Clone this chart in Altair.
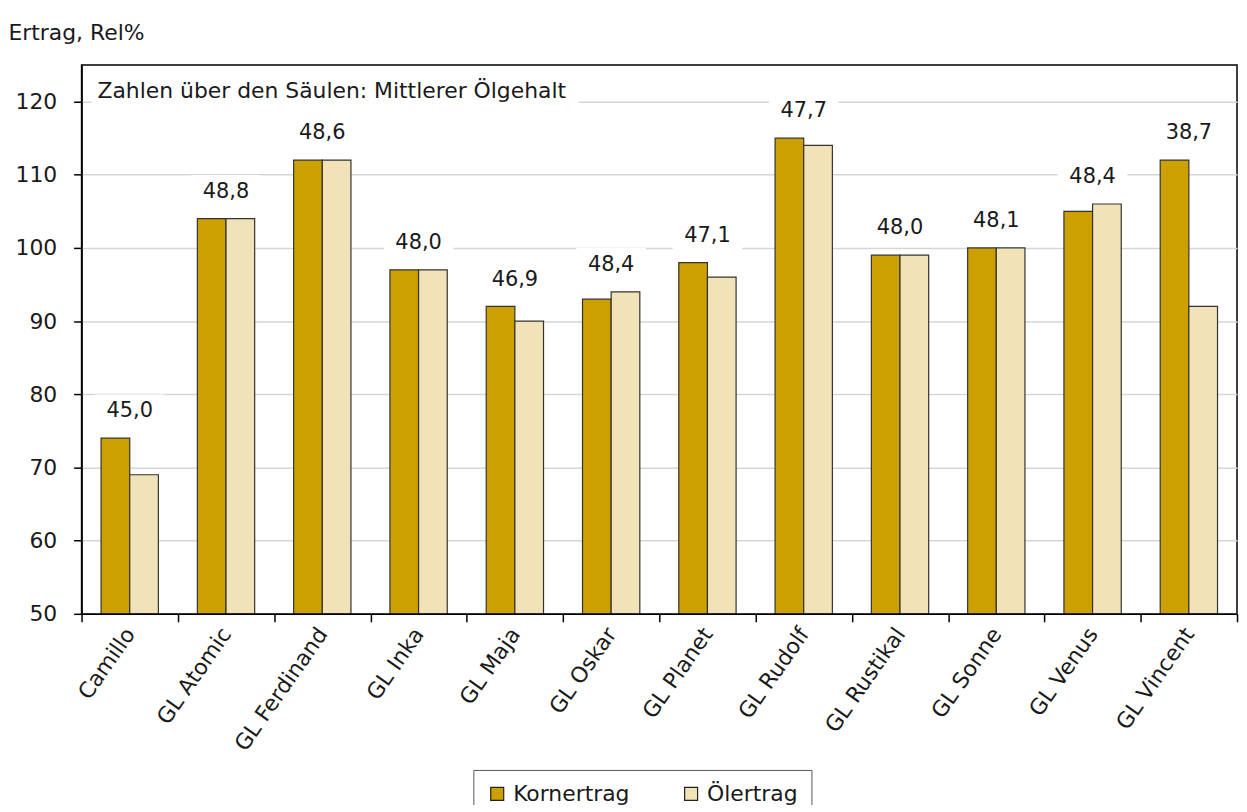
import altair as alt
import pandas as pd

sorten = ["Camillo", "GL Atomic", "GL Ferdinand", "GL Inka", "GL Maja", "GL Oskar",
          "GL Planet", "GL Rudolf", "GL Rustikal", "GL Sonne", "GL Venus", "GL Vincent"]
kornertrag = [74, 104, 112, 97, 92, 93, 98, 115, 99, 100, 105, 112]
oelertrag = [69, 104, 112, 97, 90, 94, 96, 114, 99, 100, 106, 92]
oelgehalt = ["45,0", "48,8", "48,6", "48,0", "46,9", "48,4", "47,1", "47,7", "48,0", "48,1", "48,4", "38,7"]
serien = ["Kornertrag", "Ölertrag"]
farben = ["#CCA000", "#F2E2B8"]

rows = []
for s, k, o in zip(sorten, kornertrag, oelertrag):
    rows.append({"Sorte": s, "Art": serien[0], "Wert": k})
    rows.append({"Sorte": s, "Art": serien[1], "Wert": o})
df = pd.DataFrame(rows)

lab = pd.DataFrame({
    "Sorte": sorten,
    "Top": [max(k, o) for k, o in zip(kornertrag, oelertrag)],
    "Label": oelgehalt,
})

FONT = "DejaVu Sans"
TXT = "#1a1a1a"

xenc = alt.X("Sorte:N", sort=sorten, title=None,
             scale=alt.Scale(paddingInner=0, paddingOuter=0),
             axis=alt.Axis(tickBand="extent", labelAngle=-55, labelAlign="right",
                           labelBaseline="middle", labelFontSize=22, labelColor=TXT,
                           tickSize=8, tickColor="#000", tickWidth=1.5,
                           domainColor="#000", domainWidth=1.5, labelPadding=8,
                           grid=False))

yscale = alt.Scale(domain=[50, 125], zero=False, nice=False)
yaxis = alt.Axis(values=[50, 60, 70, 80, 90, 100, 110, 120], title="Ertrag, Rel%",
                 titleAngle=0, titleAlign="left", titleBaseline="alphabetic",
                 titleX=-74, titleY=-26, titleFontSize=22, titleFontWeight="normal",
                 titleColor=TXT, labelFontSize=22, labelColor=TXT, labelPadding=17,
                 tickSize=8, tickColor="#000", tickWidth=1.5,
                 domainColor="#000", domainWidth=1.5,
                 grid=True, gridColor="#d6d6d6", gridWidth=1.5)

bars = alt.Chart(df).mark_bar(stroke="#333", strokeWidth=1.2).encode(
    x=xenc,
    xOffset=alt.XOffset("Art:N", sort=serien, scale=alt.Scale(paddingInner=0, paddingOuter=0.68)),
    y=alt.Y("Wert:Q", scale=yscale, axis=yaxis),
    y2=alt.datum(50),
    color=alt.Color("Art:N", sort=serien,
                    scale=alt.Scale(domain=serien, range=farben),
                    legend=alt.Legend(title=None, orient="none", direction="horizontal",
                                      legendX=394, legendY=709, symbolType="square",
                                      symbolSize=170, symbolStrokeColor="#222",
                                      symbolStrokeWidth=1.2, labelFontSize=22,
                                      labelColor=TXT, labelOffset=5, columnPadding=50,
                                      padding=13, strokeColor="#555", fillColor="white")),
)

label_bg = alt.Chart(lab).mark_rect(color="white", width=70, yOffset=-44, y2Offset=-12).encode(
    x=alt.X("Sorte:N", sort=sorten),
    y=alt.Y("Top:Q", scale=yscale),
    y2=alt.Y2("Top:Q"),
)

labels = alt.Chart(lab).mark_text(fontSize=21, color=TXT, baseline="middle", dy=-27).encode(
    x=alt.X("Sorte:N", sort=sorten),
    y=alt.Y("Top:Q", scale=yscale),
    text="Label:N",
)

note_df = pd.DataFrame({"t": ["Zahlen über den Säulen: Mittlerer Ölgehalt"]})
note_bg = alt.Chart(note_df).mark_rect(color="white").encode(
    x=alt.value(10), x2=alt.value(500), y=alt.value(6), y2=alt.value(46))
note = alt.Chart(note_df).mark_text(fontSize=22, color=TXT, align="left", baseline="middle").encode(
    x=alt.value(16), y=alt.value(26), text="t:N")

chart = alt.layer(label_bg, note_bg, bars, labels, note).properties(
    width=1162, height=552,
    autosize=alt.AutoSizeParams(type="none"),
    padding={"left": 74, "top": 55, "right": 2, "bottom": 190},
).configure(font=FONT).configure_view(stroke="#000", strokeWidth=1.5)

chart.save("out.html", embed_options={"renderer": "svg", "actions": False})
